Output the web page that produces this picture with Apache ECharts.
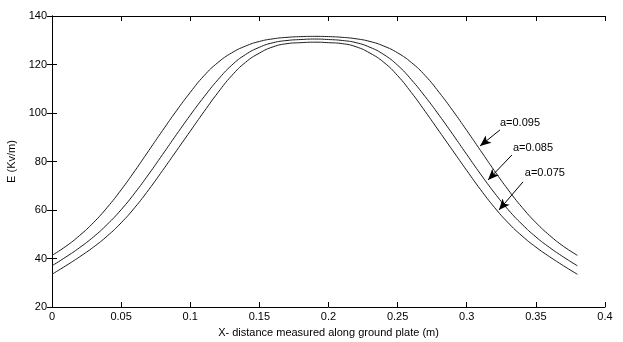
<!DOCTYPE html>
<html>
<head>
    <meta charset="utf-8">
    <title>E vs distance</title>
    <script src="https://cdn.jsdelivr.net/npm/echarts@6/dist/echarts.min.js"></script>
</head>
<body style="margin:0;background:#fff;">
<div id="main" style="width:623px;height:342px;"></div>
<script type="text/javascript">
    // x positions along the plate (m)
    var xs = [0, 0.01, 0.02, 0.03, 0.04, 0.05, 0.06, 0.07, 0.08, 0.09,
              0.10, 0.11, 0.12, 0.13, 0.14, 0.15, 0.16, 0.17, 0.18, 0.19,
              0.20, 0.21, 0.22, 0.23, 0.24, 0.25, 0.26, 0.27, 0.28, 0.29,
              0.30, 0.31, 0.32, 0.33, 0.34, 0.35, 0.36, 0.37, 0.38];

    // a=0.095 (outer curve)
    var e095 = [41.3, 45.0, 49.5, 54.8, 61.1, 68.3, 76.2, 84.5, 92.8, 100.9,
                108.5, 115.4, 120.8, 124.8, 127.6, 129.5, 130.6, 131.2, 131.5, 131.6,
                131.5, 131.2, 130.6, 129.5, 127.6, 124.8, 120.8, 115.4, 108.5, 100.9,
                92.8, 84.5, 76.2, 68.3, 61.1, 54.8, 49.5, 45.0, 41.3];
    // a=0.085
    var e085 = [37.0, 40.6, 44.5, 48.9, 54.1, 60.1, 67.1, 74.8, 82.9, 91.1,
                99.1, 106.7, 113.7, 119.7, 124.1, 127.1, 129.0, 129.9, 130.3, 130.5,
                130.3, 129.9, 129.0, 127.1, 124.1, 119.7, 113.7, 106.7, 99.1, 91.1,
                82.9, 74.8, 67.1, 60.1, 54.1, 48.9, 44.5, 40.6, 37.0];
    // a=0.075 (inner curve)
    var e075 = [33.5, 37.0, 40.7, 44.7, 49.3, 54.7, 61.1, 68.4, 76.3, 84.4,
                92.5, 100.6, 108.4, 115.4, 120.9, 124.7, 127.3, 128.6, 129.0, 129.2,
                129.0, 128.6, 127.3, 124.7, 120.9, 115.4, 108.4, 100.6, 92.5, 84.4,
                76.3, 68.4, 61.1, 54.7, 49.3, 44.7, 40.7, 37.0, 33.5];

    // annotations: label, arrow tip (on curve), arrow tail, text anchor
    var annoText = ['a=0.095', 'a=0.085', 'a=0.075'];
    var annoTip  = [[0.3096, 86.4], [0.3154, 72.4], [0.3233, 60.0]];
    var annoTail = [[0.3240, 93.0], [0.3327, 82.7], [0.3407, 71.6]];
    var annoPos  = [[0.3240, 95.8], [0.3334, 85.5], [0.3420, 75.3]];

    var font = 'Liberation Sans, Arial, sans-serif';

    function pairs(ys) {
        var out = [];
        for (var i = 0; i < xs.length; i++) out.push([xs[i], ys[i]]);
        return out;
    }

    var seriesData = [e095, e085, e075];
    var series = [];
    for (var k = 0; k < seriesData.length; k++) {
        series.push({
            name: annoText[k],
            type: 'line',
            data: pairs(seriesData[k]),
            symbol: 'none',
            smooth: true,
            lineStyle: { color: '#1a1a1a', width: 1 },
            silent: true,
            markLine: {
                silent: true,
                symbol: ['none', 'arrow'],
                symbolSize: [7, 11],
                label: { show: false },
                lineStyle: { color: '#000', width: 1, type: 'solid' },
                data: [[{ coord: annoTail[k] }, { coord: annoTip[k] }]]
            },
            markPoint: {
                silent: true,
                symbol: 'circle',
                symbolSize: 0,
                label: {
                    show: true,
                    position: 'right',
                    distance: 0,
                    formatter: annoText[k],
                    color: '#000',
                    fontFamily: font,
                    fontSize: 11
                },
                data: [{ coord: annoPos[k] }]
            }
        });
    }

    var chart = echarts.init(document.getElementById('main'));
    chart.setOption({
        animation: false,
        backgroundColor: '#fff',
        grid: { left: 52, right: 18, top: 16, bottom: 35, outerBoundsMode: 'none' },
        xAxis: [{
            type: 'value',
            min: 0, max: 0.4, interval: 0.05,
            name: 'X- distance measured along ground plate (m)',
            nameLocation: 'middle',
            nameGap: 20,
            nameTextStyle: { color: '#000', fontFamily: font, fontSize: 11 },
            axisLine: { lineStyle: { color: '#000', width: 1 } },
            axisTick: { inside: true, length: 5, lineStyle: { color: '#000' } },
            axisLabel: { color: '#000', fontFamily: font, fontSize: 11, margin: 4 },
            splitLine: { show: false }
        }, {
            type: 'value', position: 'top',
            min: 0, max: 0.4, interval: 0.05,
            axisLine: { lineStyle: { color: '#000', width: 1 } },
            axisTick: { inside: true, length: 5, lineStyle: { color: '#000' } },
            axisLabel: { show: false },
            splitLine: { show: false }
        }],
        yAxis: [{
            type: 'value',
            min: 20, max: 140, interval: 20,
            name: 'E (Kv/m)',
            nameLocation: 'middle',
            nameRotate: 90,
            nameGap: 30,
            nameTextStyle: { color: '#000', fontFamily: font, fontSize: 11 },
            axisLine: { show: true, lineStyle: { color: '#000', width: 1 } },
            axisTick: { show: true, inside: true, length: 5, lineStyle: { color: '#000' } },
            axisLabel: { color: '#000', fontFamily: font, fontSize: 11, margin: 5 },
            splitLine: { show: false }
        }, {
            type: 'value', position: 'right',
            min: 20, max: 140, interval: 20,
            axisLine: { show: true, lineStyle: { color: '#000', width: 1 } },
            axisTick: { show: true, inside: true, length: 5, lineStyle: { color: '#000' } },
            axisLabel: { show: false },
            splitLine: { show: false }
        }],
        series: series
    });
</script>
</body>
</html>
